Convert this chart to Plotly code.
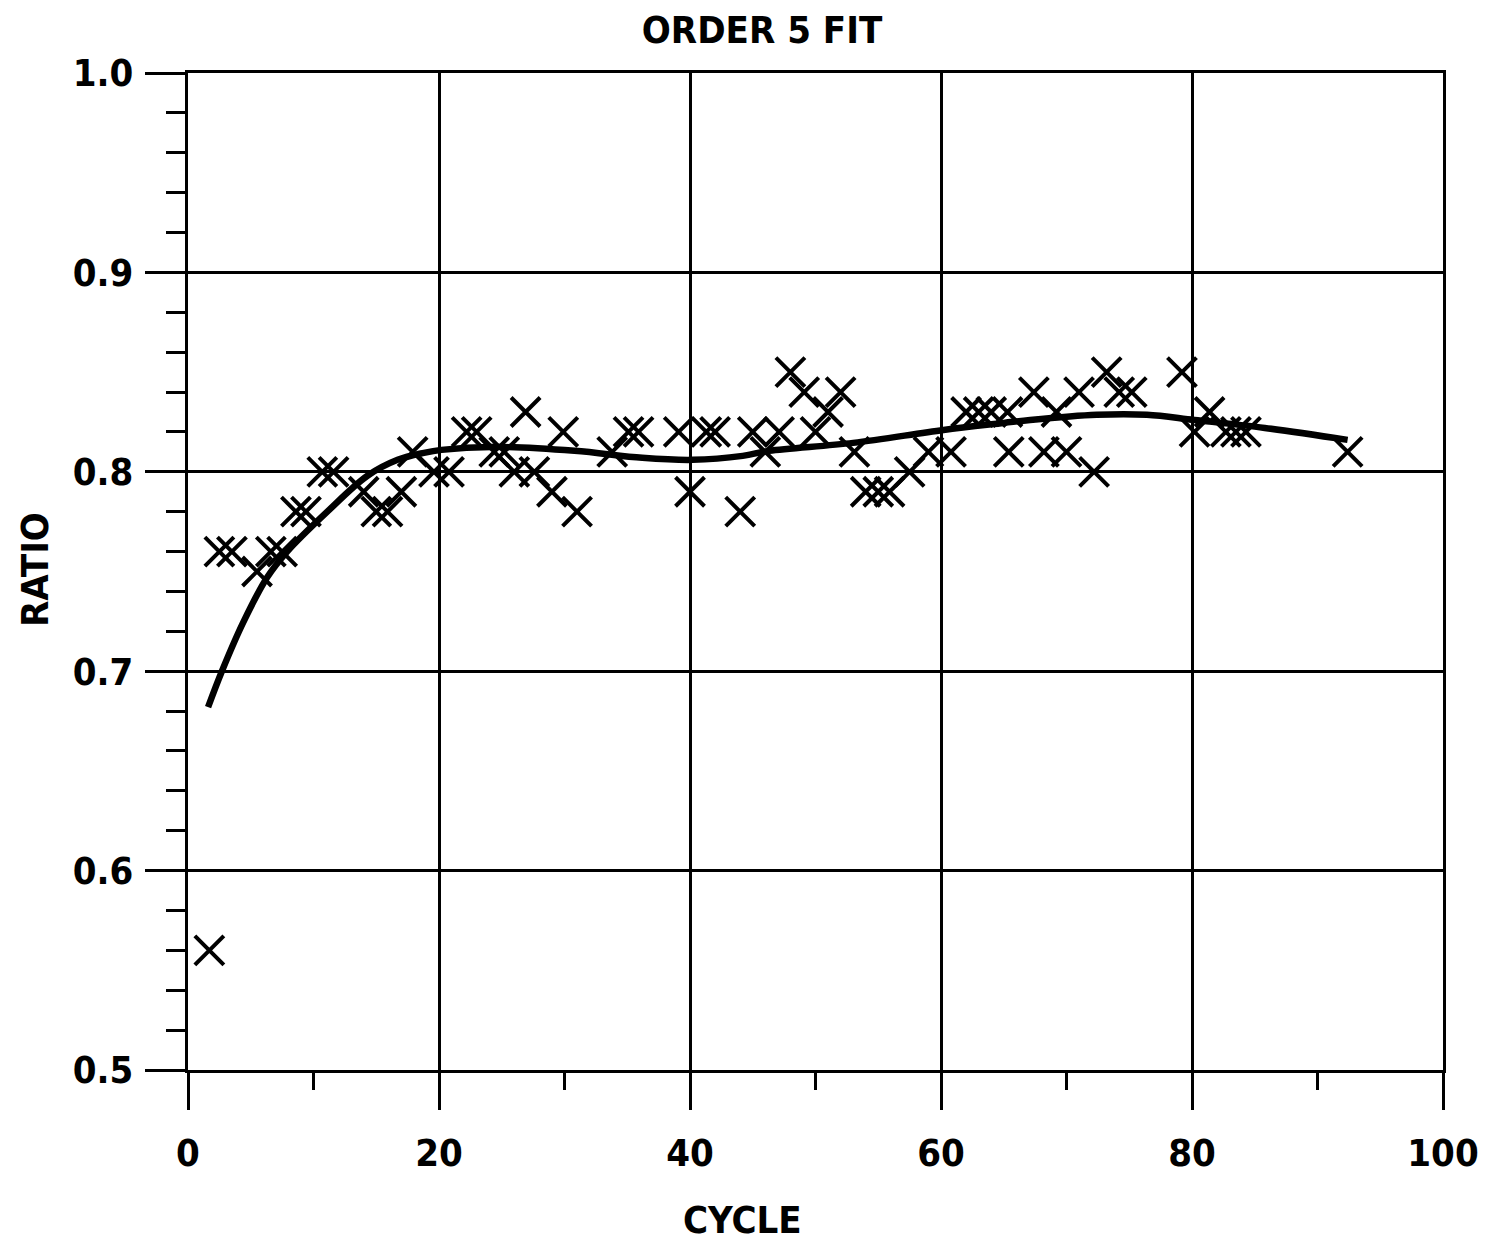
import plotly.graph_objects as go

# Measured data points (cycle, ratio)
cycle = [1.7, 2.5, 3.5, 5.5, 6.6, 7.5, 8.6, 9.4, 10.7, 11.6, 14.0, 15.0, 15.9, 17.0, 17.9,
         19.6, 20.8, 22.2, 23.0, 24.4, 25.2, 26.0, 26.9, 27.6, 29.0, 29.9, 31.0,
         33.8, 35.1, 35.9, 39.1, 40.0, 41.3, 42.0, 44.0, 45.0, 46.0, 47.1, 48.0, 49.1,
         50.0, 51.0, 52.0, 53.1, 54.0, 55.0, 55.9, 57.5, 59.0, 60.8,
         62.0, 63.0, 64.0, 65.3, 65.4, 67.4, 68.2, 69.2, 70.0, 71.0, 72.2, 73.2, 74.2, 75.2,
         79.2, 80.2, 81.4, 82.7, 83.5, 84.3, 92.4]
ratio = [0.56, 0.76, 0.76, 0.75, 0.76, 0.76, 0.78, 0.78, 0.80, 0.80, 0.79, 0.78, 0.78, 0.79, 0.81,
         0.80, 0.80, 0.82, 0.82, 0.81, 0.81, 0.80, 0.83, 0.80, 0.79, 0.82, 0.78,
         0.81, 0.82, 0.82, 0.82, 0.79, 0.82, 0.82, 0.78, 0.82, 0.81, 0.82, 0.85, 0.84,
         0.82, 0.83, 0.84, 0.81, 0.79, 0.79, 0.79, 0.80, 0.81, 0.81,
         0.83, 0.83, 0.83, 0.83, 0.81, 0.84, 0.81, 0.83, 0.81, 0.84, 0.80, 0.85, 0.84, 0.84,
         0.85, 0.82, 0.83, 0.82, 0.82, 0.82, 0.81]

# Fitted curve
fit_cycle = [1.6, 2.7, 4.4, 6.3, 7.9, 11.1, 14.3, 16.7, 18.8, 20.2, 24.2, 30.8, 36.2, 40.2,
             44.2, 46.3, 53.0, 60.2, 65.0, 67.1, 72.4, 76.4, 80.2, 85.8, 92.4]
fit_ratio = [0.682, 0.700, 0.7245, 0.747, 0.760, 0.780, 0.798, 0.806, 0.8095, 0.811, 0.8125,
             0.8105, 0.807, 0.806, 0.808, 0.8105, 0.8145, 0.821, 0.8245, 0.826, 0.8286,
             0.8286, 0.826, 0.822, 0.816]

x_ticks = [0, 20, 40, 60, 80, 100]
y_ticks = [0.5, 0.6, 0.7, 0.8, 0.9, 1.0]

FONT = "DejaVu Sans Condensed, Liberation Sans Narrow, Roboto Condensed, DejaVu Sans, sans-serif"
FS = 38

W, H = 1490, 1245
L, T = 188, 73
PW, PH = 1255, 997

fig = go.Figure()
fig.add_trace(go.Scatter(x=fit_cycle, y=fit_ratio, mode="lines",
                         line=dict(color="black", width=6.5, shape="spline"),
                         showlegend=False, hoverinfo="skip"))
fig.add_trace(go.Scatter(x=cycle, y=ratio, mode="markers",
                         marker=dict(symbol="x-thin-open", size=29, color="black",
                                     line=dict(color="black", width=4)),
                         showlegend=False))

axis_common = dict(showline=True, linecolor="black", linewidth=3, mirror=True,
                   showgrid=True, gridcolor="black", gridwidth=2.5, zeroline=False,
                   ticks="outside", tickcolor="black", tickwidth=3,
                   tickfont=dict(family=FONT, size=FS, color="black", weight="bold"))

fig.update_xaxes(range=[0, 100], tickvals=x_ticks, ticktext=[str(v) for v in x_ticks],
                 ticklen=37, ticklabelstandoff=10,
                 minor=dict(dtick=10, ticks="outside", ticklen=17, tickwidth=3,
                            tickcolor="black", showgrid=False),
                 **axis_common)
fig.update_yaxes(range=[0.5, 1.0], tickvals=y_ticks, ticktext=[f"{v:.1f}" for v in y_ticks],
                 ticklen=40, ticklabelstandoff=4,
                 minor=dict(dtick=0.02, tick0=0.5, ticks="outside", ticklen=19, tickwidth=3,
                            tickcolor="black", showgrid=False),
                 **axis_common)

fig.update_layout(
    width=W, height=H,
    margin=dict(l=L, r=W - L - PW, t=T, b=H - T - PH),
    paper_bgcolor="white", plot_bgcolor="white",
    title=dict(text="ORDER 5 FIT", x=762 / W, xanchor="center",
               yref="container", y=1 - 30 / H, yanchor="middle",
               font=dict(family=FONT, size=FS, color="black", weight="bold")),
    annotations=[
        dict(text="CYCLE", xref="paper", yref="paper", x=(742 - L) / PW,
             y=(1070 - 1220) / PH, showarrow=False, xanchor="center", yanchor="middle",
             font=dict(family=FONT, size=FS, color="black", weight="bold")),
        dict(text="RATIO", xref="paper", yref="paper", x=(35 - L) / PW,
             y=(1070 - 570) / PH, showarrow=False, textangle=-90,
             xanchor="center", yanchor="middle",
             font=dict(family=FONT, size=FS, color="black", weight="bold")),
    ],
)

fig.write_html("out.html",
               config={"displayModeBar": False},
               post_script="document.body.style.margin='0';"
                           "document.body.style.overflow='hidden';")
